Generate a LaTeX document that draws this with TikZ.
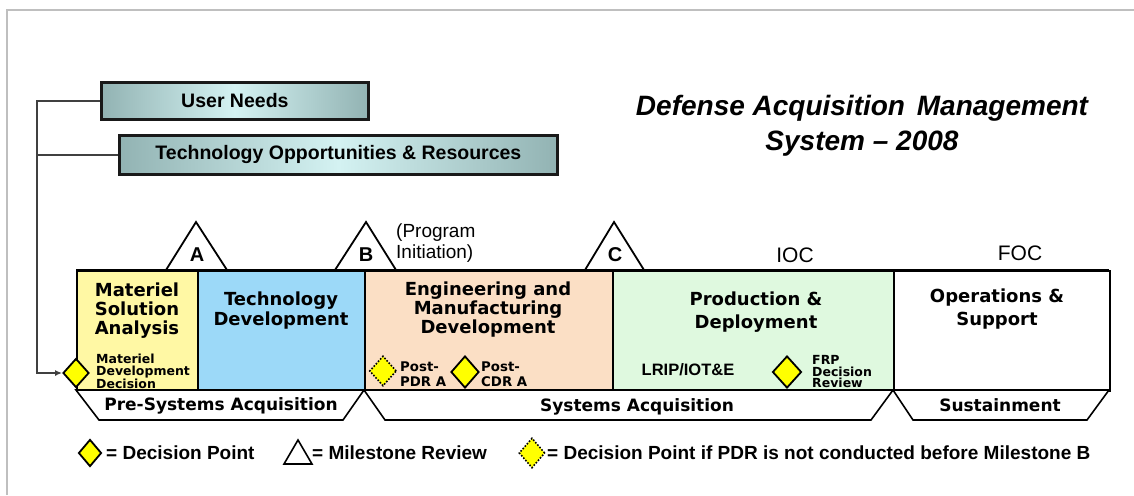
\documentclass[tikz,border=0pt]{standalone}
\usepackage{fontspec}
\setmainfont{Liberation Sans}
\newfontfamily\dvfont{DejaVu Sans}
\usetikzlibrary{shapes.geometric,arrows.meta}
\definecolor{gEdge}{HTML}{92B3B3}
\definecolor{gMid}{HTML}{D4F2F2}
\definecolor{cYel}{HTML}{FFF8A4}
\definecolor{cBlue}{HTML}{9CD9F8}
\definecolor{cPeach}{HTML}{FBDFC5}
\definecolor{cGreen}{HTML}{DFF9DF}
\definecolor{dYel}{HTML}{FFFF00}
\begin{document}
\begin{tikzpicture}[x=1pt,y=-1pt,
  gbox/.style={draw=black!90, line width=2.8pt, left color=gEdge, right color=gEdge, middle color=gMid,
    inner sep=0pt, anchor=north west, font=\bfseries\fontsize{19.5}{22}\selectfont},
  phase/.style={draw=black, line width=1.6pt, inner sep=0pt, anchor=north west},
  ptext/.style={font=\dvfont\bfseries\fontsize{18}{19}\selectfont, align=center, inner sep=0pt},
  small/.style={font=\dvfont\bfseries\fontsize{12.5}{12}\selectfont, align=left, inner sep=0pt, anchor=west},
  band/.style={draw=black, line width=1.6pt, fill=white, line join=miter},
  btext/.style={font=\dvfont\bfseries\fontsize{17}{19}\selectfont, inner sep=0pt},
  mstone/.style={draw=black, line width=1.8pt, fill=white, line join=miter},
  mlab/.style={font=\bfseries\fontsize{20}{22}\selectfont, inner sep=0pt},
  dpoint/.style={diamond, draw=black, line width=1.8pt, fill=dYel, inner sep=0pt},
  dpdot/.style={diamond, draw=black, line width=1.6pt, dash pattern=on 1.6pt off 1.6pt, fill=dYel, inner sep=0pt},
  conn/.style={draw=black!75, line width=1.5pt},
  legtext/.style={font=\bfseries\fontsize{19}{21}\selectfont, inner sep=0pt, anchor=west},
  capmark/.style={font=\fontsize{21}{23}\selectfont, inner sep=0pt}
]
\useasboundingbox (0,0) rectangle (1134,495);
\fill[white] (0,0) rectangle (1134,495);
\draw[draw=black!25, line width=2pt] (7,495) -- (7,10) -- (1134,10);

% inputs
\node[gbox, minimum width=267pt, minimum height=37pt] (un) at (100,81) {User Needs};
\node[gbox, minimum width=438pt, minimum height=39pt] (tor) at (118,134) {Technology Opportunities \& Resources};

% title
\node[font=\bfseries\itshape\fontsize{28}{35}\selectfont, align=center, inner sep=0pt] (title) at (862,126)
  {Defense Acquisition\hspace{4pt} Management\\System -- 2008};

% phases
\node[phase, fill=cYel, minimum width=121pt, minimum height=120pt] (msa) at (76,270) {};
\node[phase, fill=cBlue, minimum width=167pt, minimum height=120pt] (td) at (197,270) {};
\node[phase, fill=cPeach, minimum width=248pt, minimum height=120pt] (emd) at (364,270) {};
\node[phase, fill=cGreen, minimum width=281pt, minimum height=120pt] (pd) at (612,270) {};
\node[phase, fill=white, minimum width=216pt, minimum height=120pt] (os) at (893,270) {};

\node[ptext] (msat) at (137,311) {Materiel\\Solution\\Analysis};
\node[ptext, font=\dvfont\bfseries\fontsize{18}{20}\selectfont] (tdt) at (281,311) {Technology\\Development};
\node[ptext] (emdt) at (488,310) {Engineering and\\Manufacturing\\Development};
\node[ptext, font=\dvfont\bfseries\fontsize{18}{23}\selectfont] (pdt) at (756,312) {Production \&\\Deployment};
\node[ptext, font=\dvfont\bfseries\fontsize{18}{23}\selectfont] (ost) at (997,309) {Operations \&\\Support};

% bands
\draw[band] (76,390) -- (364,390) -- (343,420) -- (99,420) -- cycle;
\draw[band] (364,390) -- (893,390) -- (871,420) -- (385,420) -- cycle;
\draw[band] (893,390) -- (1109,390) -- (1087,420) -- (913,420) -- cycle;
\node[btext] (psa) at (221,406) {Pre-Systems Acquisition};
\node[btext] (sa) at (637,407) {Systems Acquisition};
\node[btext] (sus) at (1000,405) {Sustainment};

% milestones
\draw[mstone] (166,270) -- (196,222) -- (227,270) -- cycle;
\draw[mstone] (335,270) -- (366,222) -- (396,270) -- cycle;
\draw[mstone] (585,270) -- (614,222) -- (644,270) -- cycle;
\draw[line width=1.6pt] (76,270) -- (1109,270);
\node[mlab] (ma) at (197,255) {A};
\node[mlab] (mb) at (366,255) {B};
\node[mlab] (mc) at (615,255) {C};
\node[font=\fontsize{19}{21}\selectfont, align=left, inner sep=0pt, anchor=west] (pi) at (396,243) {(Program\\Initiation)};
\node[capmark] (ioc) at (795,255) {IOC};
\node[capmark] (foc) at (1020,253) {FOC};

% decision points
\node[dpoint, minimum width=26pt, minimum height=29pt] (mdd) at (76,373) {};
\node[small] (mddt) at (96,371) {Materiel\\Development\\Decision};
\node[dpdot, minimum width=27pt, minimum height=30pt] (pdr) at (383,371) {};
\node[small, font=\dvfont\bfseries\fontsize{13.3}{15}\selectfont] (pdrt) at (400,374.5) {Post-\\PDR A};
\node[dpoint, minimum width=28pt, minimum height=32pt] (cdr) at (465,372) {};
\node[small, font=\dvfont\bfseries\fontsize{13.3}{15}\selectfont] (cdrt) at (481,374.5) {Post-\\CDR A};
\node[font=\bfseries\fontsize{16.5}{18}\selectfont, inner sep=0pt] (lrip) at (688,370) {LRIP/IOT\&E};
\node[dpoint, minimum width=29pt, minimum height=32pt] (frp) at (787,372) {};
\node[small, font=\dvfont\bfseries\fontsize{12.5}{11.5}\selectfont] (frpt) at (812,372) {FRP\\Decision\\Review};

% connectors
\coordinate (sp) at (37,0);
\draw[conn, -{Latex[length=7pt,width=6pt]}] (un.west) -- (un.west -| sp) |- (mdd.west);
\draw[conn] (tor.west) -- (tor.west -| sp);

% legend
\node[dpoint, minimum width=23pt, minimum height=27pt] (l1) at (90,453) {};
\node[legtext] (l1t) at (106,453) {= Decision Point};
\draw[mstone, line width=1.6pt] (284,464) -- (298,440) -- (312,464) -- cycle;
\coordinate (l2) at (312,453);
\node[legtext] (l2t) at (l2) {= Milestone Review};
\node[dpdot, minimum width=26pt, minimum height=30pt] (l3) at (532,453) {};
\node[legtext] (l3t) at (547,453) {= Decision Point if PDR is not conducted before Milestone B};
\end{tikzpicture}
\end{document}
